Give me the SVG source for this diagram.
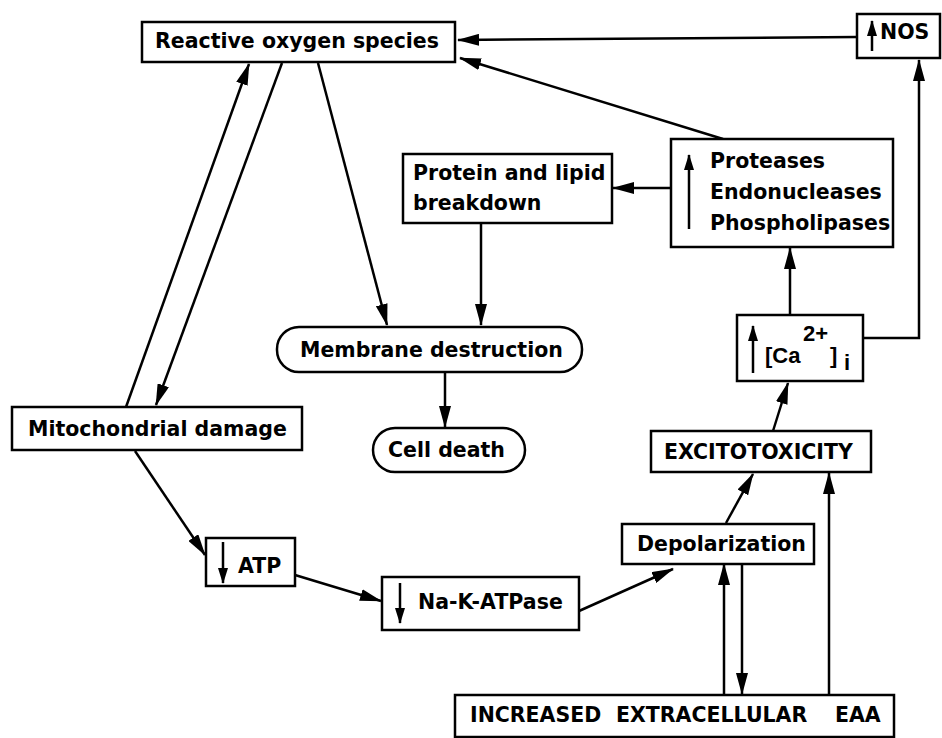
<svg xmlns="http://www.w3.org/2000/svg" width="942" height="738" viewBox="0 0 942 738">
<style>
.box{fill:#fff;stroke:#000;stroke-width:2.5}
.t{font-family:"DejaVu Sans",sans-serif;font-weight:bold;font-size:20.5px;fill:#000}
.c{fill:none;stroke:#000;stroke-width:2.5}
.s{fill:none;stroke:#000;stroke-width:2.5}
.r{font-family:"Liberation Sans",sans-serif;font-weight:bold;font-size:22px;fill:#000}
</style>
<defs>
<marker id="a" markerUnits="userSpaceOnUse" markerWidth="22" markerHeight="12" refX="21" refY="6" orient="auto">
<path d="M0,0 L22,6 L0,12 z" fill="#000"/>
</marker>
<marker id="b" markerUnits="userSpaceOnUse" markerWidth="16" markerHeight="10" refX="15" refY="5" orient="auto">
<path d="M0,0 L16,5 L0,10 z" fill="#000"/>
</marker>
</defs>
<rect width="942" height="738" fill="#fff"/>
<g id="connectors">
<line class="c" x1="857" y1="37" x2="458" y2="40" marker-end="url(#a)"/>
<line class="c" x1="723" y1="139" x2="460" y2="58" marker-end="url(#a)"/>
<line class="c" x1="671" y1="188" x2="613" y2="188" marker-end="url(#a)"/>
<line class="c" x1="481" y1="223" x2="481" y2="325" marker-end="url(#a)"/>
<line class="c" x1="318" y1="63" x2="387" y2="325" marker-end="url(#a)"/>
<line class="c" x1="126" y1="407" x2="249" y2="64" marker-end="url(#a)"/>
<line class="c" x1="282" y1="63" x2="156" y2="405" marker-end="url(#a)"/>
<line class="c" x1="445" y1="372" x2="445" y2="427" marker-end="url(#a)"/>
<line class="c" x1="135" y1="451" x2="205" y2="555" marker-end="url(#a)"/>
<line class="c" x1="295" y1="575" x2="381" y2="601" marker-end="url(#a)"/>
<line class="c" x1="579" y1="611" x2="673" y2="569" marker-end="url(#a)"/>
<line class="c" x1="726" y1="523" x2="753" y2="474" marker-end="url(#a)"/>
<line class="c" x1="773" y1="431" x2="788" y2="383" marker-end="url(#a)"/>
<line class="c" x1="790" y1="315" x2="790" y2="248" marker-end="url(#a)"/>
<polyline class="c" points="863,338 919,338 919,60" marker-end="url(#a)"/>
<line class="c" x1="724" y1="695" x2="724" y2="564" marker-end="url(#a)"/>
<line class="c" x1="742" y1="563" x2="742" y2="694" marker-end="url(#a)"/>
<line class="c" x1="829" y1="695" x2="829" y2="473" marker-end="url(#a)"/>
</g>
<g id="ros">
<rect class="box" x="142" y="22" width="313" height="40"/>
<text class="t" x="155" y="48">Reactive oxygen species</text>
</g>
<g id="nos">
<rect class="box" x="857" y="14" width="83" height="44"/>
<line class="s" x1="872" y1="51" x2="872" y2="21" marker-end="url(#b)"/>
<text class="t" x="880" y="39">NOS</text>
</g>
<g id="protein">
<rect class="box" x="403" y="154" width="209" height="69"/>
<text class="t" x="413" y="180">Protein and lipid</text>
<text class="t" x="413" y="210">breakdown</text>
</g>
<g id="proteases">
<rect class="box" x="671" y="139" width="222" height="108"/>
<line class="s" x1="689" y1="229" x2="689" y2="155" marker-end="url(#b)"/>
<text class="t" x="710" y="168" font-size="20">Proteases</text>
<text class="t" x="710" y="199" font-size="20">Endonucleases</text>
<text class="t" x="710" y="230" font-size="20">Phospholipases</text>
</g>
<g id="membrane">
<rect class="box" x="277" y="327" width="305" height="45" rx="22"/>
<text class="t" x="300" y="357">Membrane destruction</text>
</g>
<g id="celldeath">
<rect class="box" x="373" y="428" width="152" height="44" rx="22"/>
<text class="t" x="388" y="457">Cell death</text>
</g>
<g id="mito">
<rect class="box" x="12" y="407" width="290" height="43"/>
<text class="t" x="28" y="436">Mitochondrial damage</text>
</g>
<g id="atp">
<rect class="box" x="206" y="538" width="89" height="48"/>
<line class="s" x1="223" y1="542" x2="223" y2="583" marker-end="url(#b)"/>
<text class="t" x="238" y="573">ATP</text>
</g>
<g id="nak">
<rect class="box" x="382" y="577" width="197" height="53"/>
<line class="s" x1="400" y1="583" x2="400" y2="623" marker-end="url(#b)"/>
<text class="t" x="418" y="609">Na-K-ATPase</text>
</g>
<g id="depol">
<rect class="box" x="622" y="524" width="192" height="40"/>
<text class="t" x="637" y="551">Depolarization</text>
</g>
<g id="excito">
<rect class="box" x="651" y="431" width="220" height="41"/>
<text class="t" x="664" y="459">EXCITOTOXICITY</text>
</g>
<g id="ca">
<rect class="box" x="737" y="315" width="126" height="66"/>
<line class="s" x1="753" y1="373" x2="753" y2="326" marker-end="url(#b)"/>
<text class="r" x="765" y="363">[Ca</text>
<text class="r" x="803" y="341" font-size="21">2+</text>
<text class="r" x="830" y="363">]</text>
<text class="r" x="844" y="370" font-size="19">i</text>
</g>
<g id="eaa">
<rect class="box" x="455" y="695" width="439" height="42"/>
<text class="t" y="722"><tspan x="470">INCREASED</tspan><tspan x="616">EXTRACELLULAR</tspan><tspan x="835">EAA</tspan></text>
</g>
</svg>
